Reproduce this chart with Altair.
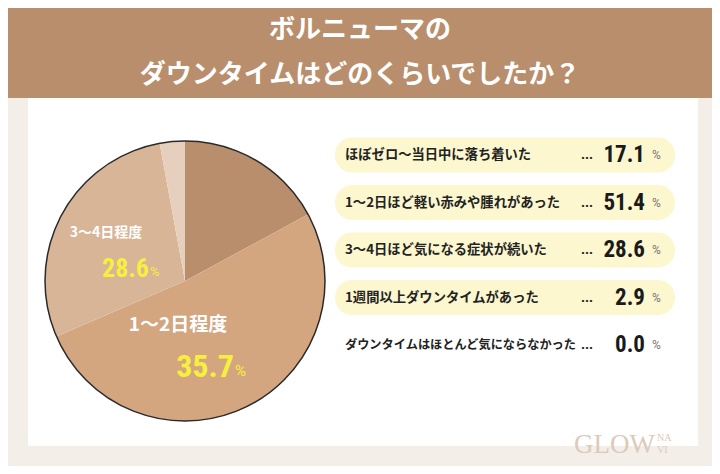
import math
import altair as alt
import pandas as pd

# ---- data ----
categories = [
    "ほぼゼロ〜当日中に落ち着いた",
    "1〜2日ほど軽い赤みや腫れがあった",
    "3〜4日ほど気になる症状が続いた",
    "1週間以上ダウンタイムがあった",
    "ダウンタイムはほとんど気にならなかった",
]
values = [17.1, 51.4, 28.6, 2.9, 0.0]
slice_colors = ["#b98e6c", "#d3a67f", "#d8b596", "#e6d0bd", "#f0e2d4"]
title_lines = ["ボルニューマの", "ダウンタイムはどのくらいでしたか？"]
pie_labels = ["3〜4日程度", "1〜2日程度"]
pie_label_values = ["28.6", "35.7"]

df = pd.DataFrame({
    "idx": list(range(len(categories))),
    "category": categories,
    "value": values,
})

W, H = 704, 458
JP = "Noto Sans CJK JP"
CX, CY, R = 177, 273, 140

# ---- decoration ----
bg_df = pd.DataFrame({"k": [0]})
banner = alt.Chart(bg_df).mark_rect(color="#b98e6c").encode(
    x=alt.value(0), x2=alt.value(W), y=alt.value(0), y2=alt.value(90))
panel = alt.Chart(bg_df).mark_rect(color="#ffffff").encode(
    x=alt.value(20), x2=alt.value(690), y=alt.value(90), y2=alt.value(438))

title = alt.Chart(pd.DataFrame({"t": title_lines, "i": [0, 1]})).mark_text(
    font=JP, fontSize=26, fontWeight="bold", color="#ffffff", align="center", baseline="middle"
).encode(
    x=alt.value(352),
    y=alt.Y("i:Q", scale=alt.Scale(domain=[0, 1], range=[22, 67]), axis=None),
    text="t:N",
)

# ---- pie ----
pie = alt.Chart(df).mark_arc(radius=R, stroke=None).encode(
    theta=alt.Theta("value:Q", stack=True),
    order=alt.Order("idx:Q"),
    color=alt.Color("category:N", scale=alt.Scale(domain=categories, range=slice_colors), legend=None),
    x=alt.value(CX), y=alt.value(CY),
)
outline = alt.Chart(bg_df).mark_arc(
    radius=R, theta=0, theta2=2 * math.pi, fillOpacity=0, stroke="#2a2a2a", strokeWidth=1.5
).encode(x=alt.value(CX), y=alt.value(CY))

lab_df = pd.DataFrame({"t": pie_labels, "v": pie_label_values})
lab1 = alt.Chart(lab_df.iloc[[0]]).mark_text(
    font=JP, fontSize=14, fontWeight="bold", color="#ffffff", align="center", baseline="middle"
).encode(x=alt.value(98), y=alt.value(225), text="t:N")
num1 = alt.Chart(lab_df.iloc[[0]]).mark_text(
    font="Roboto Condensed, Roboto", fontSize=26, fontWeight="bold", color="#f7ef3e", align="right", baseline="middle"
).encode(x=alt.value(141), y=alt.value(261), text="v:N")
pct1 = alt.Chart(lab_df.iloc[[0]]).mark_text(
    font="Roboto", fontSize=13, color="#f7ef3e", align="left", baseline="middle"
).encode(x=alt.value(142), y=alt.value(264), text=alt.value("%"))
lab2 = alt.Chart(lab_df.iloc[[1]]).mark_text(
    font=JP, fontSize=19, fontWeight="bold", color="#ffffff", align="center", baseline="middle"
).encode(x=alt.value(170), y=alt.value(317), text="t:N")
num2 = alt.Chart(lab_df.iloc[[1]]).mark_text(
    font="Roboto Condensed, Roboto", fontSize=32, fontWeight="bold", color="#f7ef3e", align="right", baseline="middle"
).encode(x=alt.value(226), y=alt.value(359), text="v:N")
pct2 = alt.Chart(lab_df.iloc[[1]]).mark_text(
    font="Roboto", fontSize=15, color="#f7ef3e", align="left", baseline="middle"
).encode(x=alt.value(227), y=alt.value(363), text=alt.value("%"))

# ---- list on the right ----
yscale = alt.Scale(domain=[0, 4], range=[147, 337])
base = alt.Chart(df)
pills = base.transform_filter("datum.value > 0").transform_calculate(
    lo="datum.idx - 0.37", hi="datum.idx + 0.37"
).mark_rect(color="#fcf7cf", cornerRadius=17).encode(
    x=alt.value(327), x2=alt.value(667),
    y=alt.Y("lo:Q", scale=yscale, axis=None), y2="hi:Q",
)
labels = base.mark_text(
    font=JP, fontWeight="bold", color="#222222", align="left", baseline="middle"
).encode(
    x=alt.value(337),
    y=alt.Y("idx:Q", scale=yscale, axis=None),
    text="category:N",
    size=alt.condition("datum.idx == 4", alt.value(12.2), alt.value(13.3)),
)
dots = base.mark_text(
    font="Roboto", fontSize=14, fontWeight="bold", color="#222222", align="left", baseline="middle"
).encode(x=alt.value(573), y=alt.Y("idx:Q", scale=yscale, axis=None), text=alt.value("..."))
nums = base.mark_text(
    font="Roboto Condensed, Roboto", fontSize=23, fontWeight="bold", color="#1a1a1a", align="right", baseline="middle"
).encode(x=alt.value(637), y=alt.Y("idx:Q", scale=yscale, axis=None), text=alt.Text("value:Q", format=".1f"))
pcts = base.mark_text(
    font="Roboto", fontSize=12, color="#777777", align="left", baseline="middle"
).encode(x=alt.value(644), y=alt.Y("idx:Q", scale=yscale, axis=None), text=alt.value("%"))

# ---- logo ----
logo = alt.Chart(bg_df).mark_text(
    font="Liberation Serif", fontSize=27, color="#dccabb", align="right", baseline="middle"
).encode(x=alt.value(647), y=alt.value(437), text=alt.value("GLOW"))
logo2 = alt.Chart(pd.DataFrame({"t": ["NA", "VI"], "i": [0, 1]})).mark_text(
    font="Liberation Serif", fontSize=10, color="#dccabb", align="left", baseline="middle"
).encode(x=alt.value(649), y=alt.Y("i:Q", scale=alt.Scale(domain=[0, 1], range=[430, 442]), axis=None), text="t:N")

chart = alt.layer(
    banner, panel, title, pie, outline, lab1, num1, pct1, lab2, num2, pct2,
    pills, labels, dots, nums, pcts, logo, logo2
).resolve_scale(y="independent").properties(
    width=W, height=H, padding=0, background="#f3eee8",
    autosize=alt.AutoSizeParams(type="none"),
).configure_view(stroke=None)

chart.save("out.html", embed_options={"renderer": "svg", "actions": False})
